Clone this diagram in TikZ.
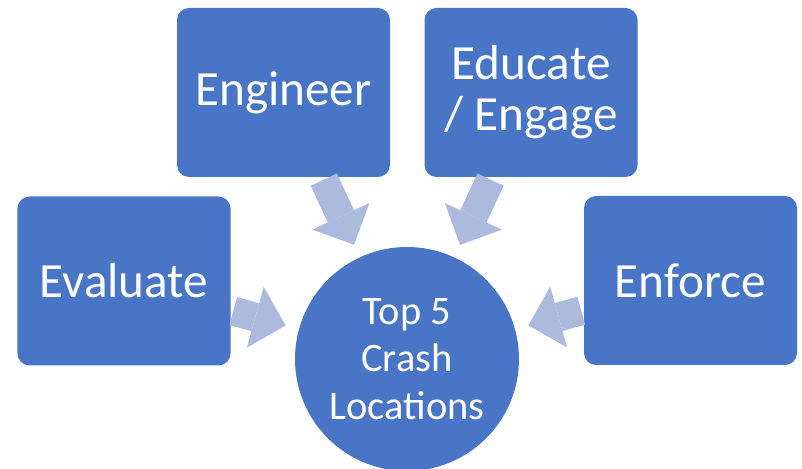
\documentclass[tikz,border=0pt]{standalone}
\usepackage{fontspec}
\setmainfont{Carlito}
\usetikzlibrary{arrows.meta}
\definecolor{boxblue}{RGB}{72,117,198}
\definecolor{flowblue}{RGB}{172,186,222}

\begin{document}
\begin{tikzpicture}[
    actbox/.style={fill=boxblue, rounded corners=0.24cm, minimum width=4.26cm, minimum height=3.38cm,
      text=white, align=center, inner sep=0pt, font=\fontsize{28}{29}\selectfont},
    hub/.style={circle, fill=boxblue, minimum size=4.48cm, text=white, align=center, inner sep=0pt,
      font=\fontsize{23}{27}\selectfont},
    flow/.style={draw=flowblue, line width=0.58cm, shorten >=0.27cm, shorten <=0.05cm,
      -{Triangle[width=1.26cm, length=0.63cm, line width=0pt]}}
  ]
      \useasboundingbox (0, 0) rectangle (16.04, 9.38);
      \node[actbox] (engineer) at (5.67, 7.53) {Engineer};
      \node[actbox] (educate) at (10.62, 7.53) {Educate\\/ Engage};
      \node[actbox] (evaluate) at (2.48, 3.76) {Evaluate};
      \node[actbox] (enforce) at (13.81, 3.77) {Enforce};
      \node[hub] (top) at (8.14, 2.2) {Top 5\\Crash\\Locations};
      \draw[flow] (engineer) -- (top);
      \draw[flow] (educate) -- (top);
      \draw[flow] (evaluate) -- (top);
      \draw[flow] (enforce) -- (top);
    \end{tikzpicture}
\end{document}
